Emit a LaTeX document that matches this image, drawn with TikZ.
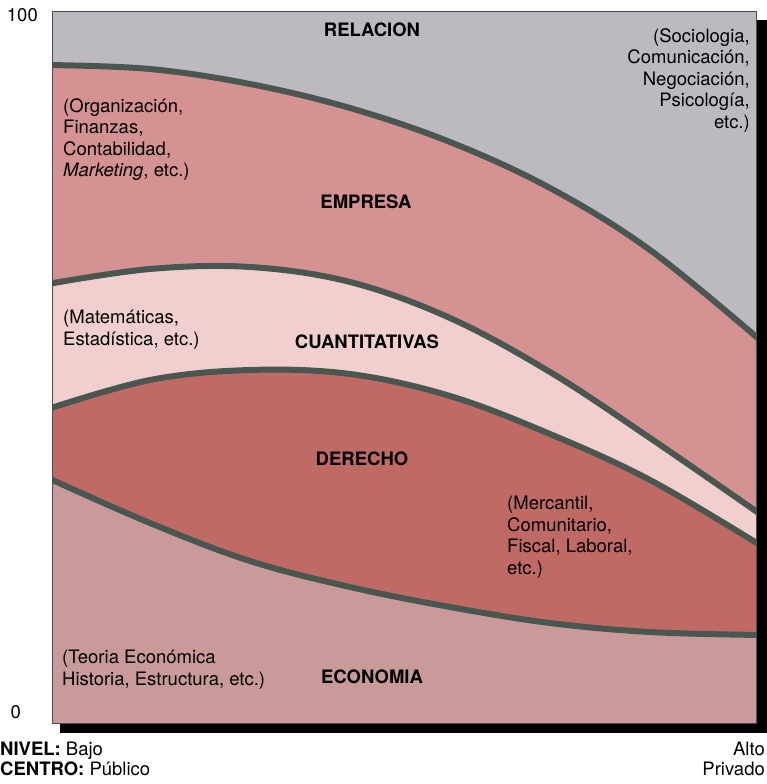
\documentclass[tikz,border=0pt]{standalone}
\usepackage{fontspec}
\setmainfont{TeX Gyre Heros}
\definecolor{relgray}{RGB}{188,186,192}
\definecolor{emppink}{RGB}{213,146,146}
\definecolor{cuanpink}{RGB}{241,207,207}
\definecolor{derred}{RGB}{192,106,102}
\definecolor{ecopink}{RGB}{201,154,154}
\definecolor{bandline}{RGB}{74,86,80}
\newcommand\chartfont{\fontsize{18.5}{21.5}\selectfont}
\def\curveA{plot[smooth, tension=0.6] coordinates {(48,65) (150,69) (250,84) (350,108) (450,142) (550,188) (650,250) (760,340)}}
\def\curveB{plot[smooth, tension=0.6] coordinates {(48,284) (150,269) (250,267) (350,282) (450,318) (550,372) (650,438) (760,514)}}
\def\curveC{plot[smooth, tension=0.6] coordinates {(48,409) (150,380) (250,370) (350,374) (450,396) (550,434) (650,480) (760,545)}}
\def\curveD{plot[smooth, tension=0.6] coordinates {(48,478) (150,523) (250,561) (350,587) (450,607) (550,623) (650,632) (760,635)}}

\begin{document}
\begin{tikzpicture}[x=1pt,y=-1pt,
  every node/.style={font=\chartfont, inner sep=0},
  area/.style={font=\chartfont\bfseries},
  note/.style={align=left},
  band/.style={line width=6pt, draw=bandline},
  ]
\useasboundingbox (0,0) rectangle (767,784);

\fill[black] (60,20) rectangle (767,733);
\begin{scope}
\clip (52,12) rectangle (756,723);
\fill[relgray] (52,12) rectangle (756,723);
\fill[emppink] \curveA -- (760,730) -- (48,730) -- cycle;
\fill[cuanpink] \curveB -- (760,730) -- (48,730) -- cycle;
\fill[derred] \curveC -- (760,730) -- (48,730) -- cycle;
\fill[ecopink] \curveD -- (760,730) -- (48,730) -- cycle;
\draw[band] \curveA;
\draw[band] \curveB;
\draw[band] \curveC;
\draw[band] \curveD;
\end{scope}
\draw[gray!60!black, line width=1pt] (52,12) rectangle (756,723);

\node[anchor=east] (top) at (38,15) {100};
\node[anchor=east] (bottom) at (21,712) {0};

\node[area] (relacion) at (372,30) {RELACION};
\node[area] (empresa) at (366,202) {EMPRESA};
\node[area] (cuanti) at (367,342) {CUANTITATIVAS};
\node[area] (derecho) at (362,459) {DERECHO};
\node[area] (economia) at (372,677) {ECONOMIA};

\node[align=right, anchor=north east] (relnote) at (750,28)
  {(Sociologia,\\Comunicación,\\Negociación,\\Psicología,\\etc.)};
\node[note, anchor=north west] (empnote) at (63,98)
  {(Organización,\\Finanzas,\\Contabilidad,\\\textit{Marketing}, etc.)};
\node[note, anchor=north west] (cuannote) at (63,310)
  {(Matemáticas,\\Estadística, etc.)};
\node[note, anchor=north west] (dernote) at (507,496)
  {(Mercantil,\\Comunitario,\\Fiscal, Laboral,\\etc.)};
\node[note, anchor=north west] (econote) at (62,650)
  {(Teoria Económica\\Historia, Estructura, etc.)};

\node[anchor=base west] (nivel) at (0,755) {\textbf{NIVEL:} Bajo};
\node[anchor=base west] (centro) at (0,775) {\textbf{CENTRO:} Público};
\node[anchor=base east] (alto) at (765,755) {Alto};
\node[anchor=base east] (privado) at (765,775) {Privado};
\end{tikzpicture}
\end{document}
